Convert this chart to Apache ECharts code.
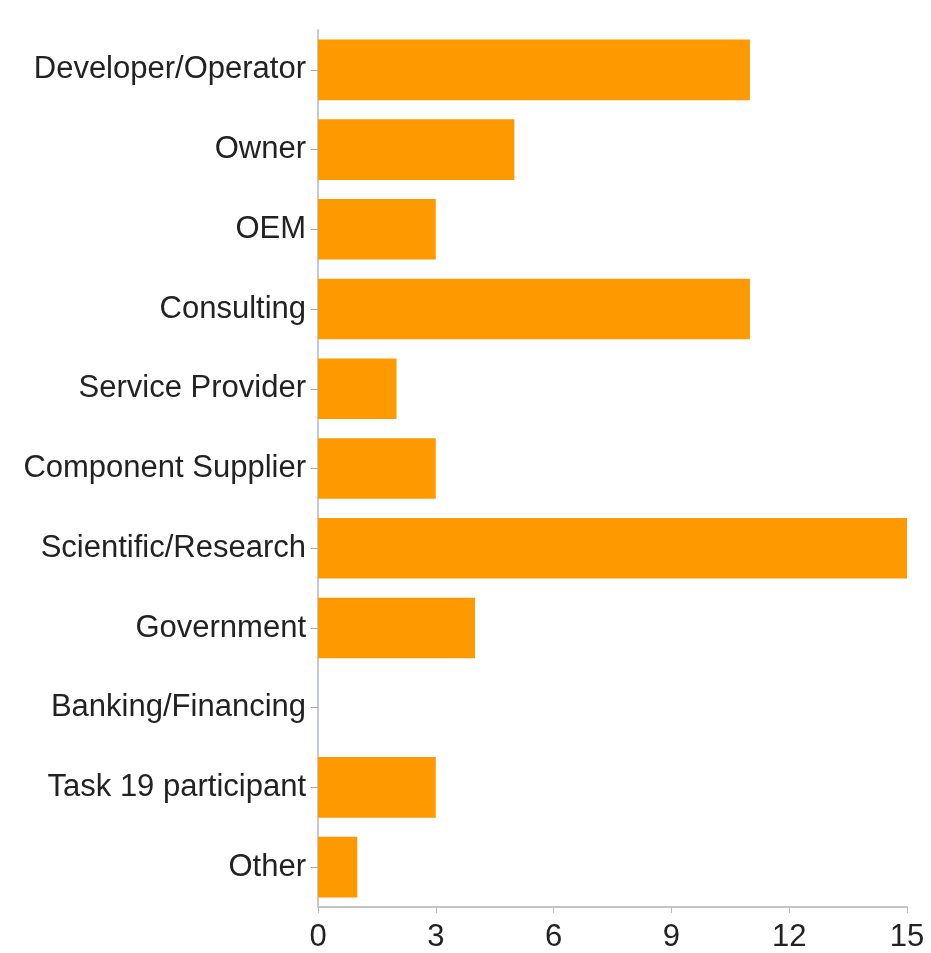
<!DOCTYPE html>
<html>
<head>
<meta charset="utf-8">
<script src="https://cdn.jsdelivr.net/npm/echarts@6/dist/echarts.min.js"></script>
<style>
html,body{margin:0;padding:0;background:#fff;}
#chart{width:931px;height:953px;}
</style>
</head>
<body>
<div id="chart"></div>
<script>
const categories = ["Developer/Operator","Owner","OEM","Consulting","Service Provider","Component Supplier","Scientific/Research","Government","Banking/Financing","Task 19 participant","Other"];
const counts = [11,5,3,11,2,3,15,4,0,3,1];
const xTicks = {min:0,max:15,interval:3};

const chart = echarts.init(document.getElementById('chart'), null, {renderer:'canvas'});
chart.setOption({
  animation:false,
  backgroundColor:'#fff',
  grid:{left:318,right:24,top:30,bottom:44,containLabel:false},
  xAxis:{
    type:'value',min:xTicks.min,max:xTicks.max,interval:xTicks.interval,
    axisLine:{show:true,lineStyle:{color:'#c4c4c4',width:2}},
    axisTick:{show:true,length:6,lineStyle:{color:'#bbb',width:1}},
    splitLine:{show:false},
    axisLabel:{color:'#222',fontFamily:'Liberation Sans, Arial, sans-serif',fontSize:31,margin:15}
  },
  yAxis:{
    type:'category',data:categories,inverse:true,
    axisLine:{show:true,lineStyle:{color:'#c4c8d4',width:2}},
    axisTick:{show:true,alignWithLabel:true,length:7,lineStyle:{color:'#aaa'}},
    axisLabel:{color:'#222',fontFamily:'Liberation Sans, Arial, sans-serif',fontSize:31,margin:12}
  },
  series:[{
    type:'bar',data:counts,barCategoryGap:'24%',
    itemStyle:{color:'#FF9900'}
  }]
});
</script>
</body>
</html>
